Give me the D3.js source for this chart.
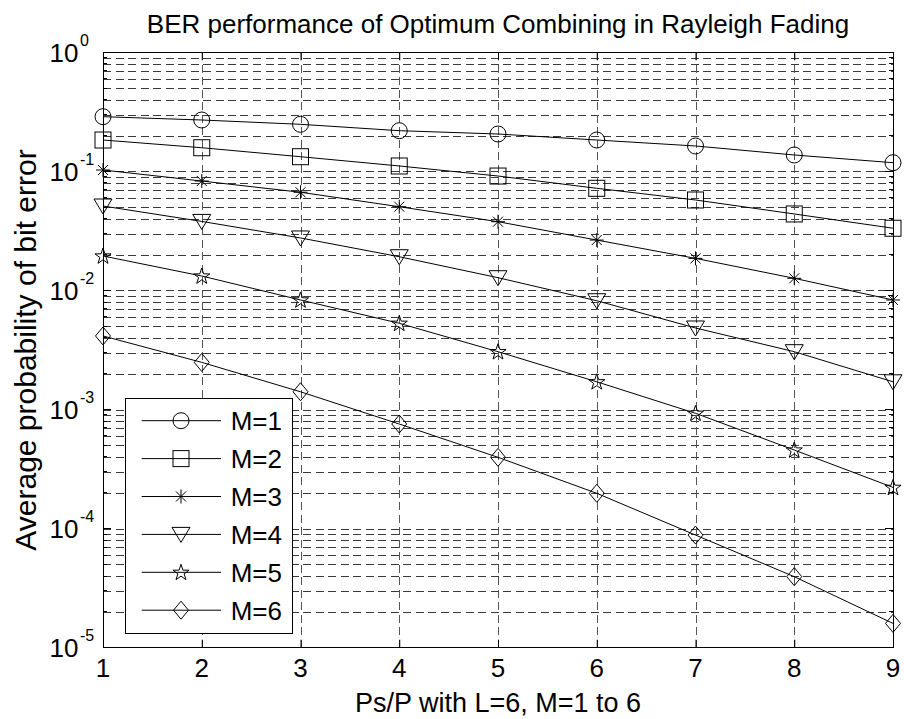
<!DOCTYPE html>
<html><head><meta charset="utf-8">
<script src="https://cdn.jsdelivr.net/npm/d3@7"></script>
<style>body{margin:0;background:#fff}svg{display:block}</style>
</head><body><svg id="c" width="904" height="719"></svg>
<script>
const xValues = [1,2,3,4,5,6,7,8,9];
const seriesNames = ["M=1","M=2","M=3","M=4","M=5","M=6"];
const markerTypes = ["circle","square","asterisk","triangleDown","star","diamond"];
const berM1 = [0.288,0.270,0.2485,0.2196,0.206,0.1834,0.1634,0.1373,0.1183];
const berM2 = [0.1834,0.158,0.1328,0.111,0.0914,0.0721,0.0575,0.0439,0.0333];
const berM3 = [0.1027,0.0830,0.0668,0.0505,0.0378,0.0265,0.0186,0.01265,0.00832];
const berM4 = [0.0512,0.0380,0.0276,0.0192,0.0128,0.0082,0.00484,0.00306,0.00171];
const berM5 = [0.01948,0.01322,0.00832,0.00530,0.00306,0.00171,0.00093,0.000457,0.000222];
const berM6 = [0.00415,0.00249,0.00141,0.000756,0.000397,0.000198,0.0000883,0.0000395,0.0000160];
const xTicks = [1,2,3,4,5,6,7,8,9];
const yDecades = [1e-5,1e-4,1e-3,1e-2,1e-1,1];
const yExponents = ["-5","-4","-3","-2","-1","0"];
const titleText = "BER performance of Optimum Combining in Rayleigh Fading";
const xLabelText = "Ps/P with L=6, M=1 to 6";
const yLabelText = "Average probability of bit error";

const series = [berM1,berM2,berM3,berM4,berM5,berM6];
const FONT = "'Liberation Sans', Arial, sans-serif";
const L=103, R=893, T=52.3, B=647.7;
const svg = d3.select("#c");
const x = d3.scaleLinear().domain([1,9]).range([L,R]);
const y = d3.scaleLog().domain([1e-5,1]).range([B,T]);

// minor + major y grid values
const yGrid = [];
for (let k=-5;k<0;k++){ for (let m=1;m<=9;m++){ const v=m*Math.pow(10,k); if(v>1e-5) yGrid.push(v);} }

const grid = svg.append("g").attr("stroke","#3a3a3a").attr("stroke-width",1)
  .attr("stroke-dasharray","8,4.5").attr("shape-rendering","crispEdges");
grid.selectAll("line.h").data(yGrid).join("line").attr("class","h")
  .attr("x1",L).attr("x2",R).attr("y1",d=>Math.round(y(d))+0.5).attr("y2",d=>Math.round(y(d))+0.5);
grid.selectAll("line.v").data(xTicks.slice(1,-1)).join("line").attr("class","v")
  .attr("y1",T).attr("y2",B).attr("x1",d=>Math.round(x(d))+0.5).attr("x2",d=>Math.round(x(d))+0.5)
  .attr("stroke","#555");

// axes box and ticks
const ax = svg.append("g").attr("stroke","#000").attr("stroke-width",1).attr("fill","none").attr("shape-rendering","crispEdges");
ax.append("rect").attr("x",L).attr("y",T).attr("width",R-L).attr("height",B-T);
const gxb = svg.append("g").attr("transform",`translate(0,${B})`)
  .call(d3.axisBottom(x).tickValues(xTicks).tickSizeInner(-8).tickSizeOuter(0));
gxb.select(".domain").remove(); gxb.selectAll("text").remove();
const gxt = svg.append("g").attr("transform",`translate(0,${T})`)
  .call(d3.axisTop(x).tickValues(xTicks).tickSizeInner(-8).tickSizeOuter(0));
gxt.select(".domain").remove(); gxt.selectAll("text").remove();
const yMinor = yGrid.filter(v=>!yDecades.includes(v));
[[L,-1],[R,1]].forEach(([px,dir])=>{
  const g = svg.append("g").attr("stroke","#000").attr("shape-rendering","crispEdges");
  g.selectAll("line.M").data(yDecades).join("line").attr("x1",px).attr("x2",px-dir*8).attr("y1",d=>y(d)).attr("y2",d=>y(d));
  g.selectAll("line.m").data(yMinor).join("line").attr("x1",px).attr("x2",px-dir*4).attr("y1",d=>y(d)).attr("y2",d=>y(d));
});

// tick labels
svg.append("g").selectAll("text").data(xTicks).join("text")
  .attr("x",d=>x(d)).attr("y",677).attr("text-anchor","middle")
  .attr("font-family",FONT).attr("font-size",26).text(d=>d);
const yl = svg.append("g").selectAll("text").data(yDecades).join("text")
  .attr("x",49.5).attr("y",d=>y(d)+9.3).attr("text-anchor","start")
  .attr("font-family",FONT).attr("font-size",26);
yl.append("tspan").text("10");
yl.append("tspan").attr("dx",1.5).attr("dy",-16).attr("font-size",16).text((d,i)=>yExponents[i]);

// markers
function marker(sel,type){
  sel.attr("fill","none").attr("stroke","#000").attr("stroke-width",1);
  if(type==="circle") sel.append("circle").attr("r",8);
  else if(type==="square") sel.append("rect").attr("x",-8).attr("y",-8).attr("width",16).attr("height",16);
  else if(type==="asterisk") sel.append("path").attr("d","M0,-7L0,7M-7,0L7,0M-5,-5L5,5M-5,5L5,-5");
  else if(type==="triangleDown") sel.append("path").attr("d","M-9,-7L9,-7L0,8Z");
  else if(type==="star"){
    const pts=[]; for(let i=0;i<10;i++){const r=i%2?3.3:8.5; const a=-Math.PI/2+i*Math.PI/5; pts.push([r*Math.cos(a),r*Math.sin(a)+0.5]);}
    sel.append("path").attr("d","M"+pts.map(p=>p.join(",")).join("L")+"Z");
  }
  else if(type==="diamond") sel.append("path").attr("d","M0,-9L7.5,0L0,9L-7.5,0Z");
}

const line = d3.line().x((d,i)=>x(xValues[i])).y(d=>y(d));
series.forEach((s,k)=>{
  const g = svg.append("g");
  g.append("path").datum(s).attr("d",line).attr("fill","none").attr("stroke","#000").attr("stroke-width",1);
  g.selectAll("g.mk").data(s).join("g").attr("class","mk")
    .attr("transform",(d,i)=>`translate(${x(xValues[i])},${y(d)})`).each(function(){marker(d3.select(this),markerTypes[k]);});
});

// legend
const lg = svg.append("g");
lg.append("rect").attr("x",125).attr("y",398.3).attr("width",167.7).attr("height",235)
  .attr("fill","#fff").attr("stroke","#000").attr("stroke-width",1).attr("shape-rendering","crispEdges");
seriesNames.forEach((n,k)=>{
  const yy = 420.7 + k*37.9;
  lg.append("line").attr("x1",141.7).attr("x2",221).attr("y1",yy).attr("y2",yy).attr("stroke","#000").attr("stroke-width",1);
  const m = lg.append("g").attr("transform",`translate(181,${yy})`); marker(m,markerTypes[k]);
  lg.append("text").attr("x",230.7).attr("y",yy+9.3).attr("font-family",FONT).attr("font-size",26).text(n);
});

// titles
svg.append("text").attr("x",(L+R)/2).attr("y",33).attr("text-anchor","middle")
  .attr("font-family",FONT).attr("font-size",26).text(titleText);
svg.append("text").attr("x",(L+R)/2).attr("y",712).attr("text-anchor","middle")
  .attr("font-family",FONT).attr("font-size",27).text(xLabelText);
svg.append("text").attr("transform",`translate(36,${(T+B)/2}) rotate(-90)`).attr("text-anchor","middle")
  .attr("font-family",FONT).attr("font-size",30).text(yLabelText);
</script></body></html>
